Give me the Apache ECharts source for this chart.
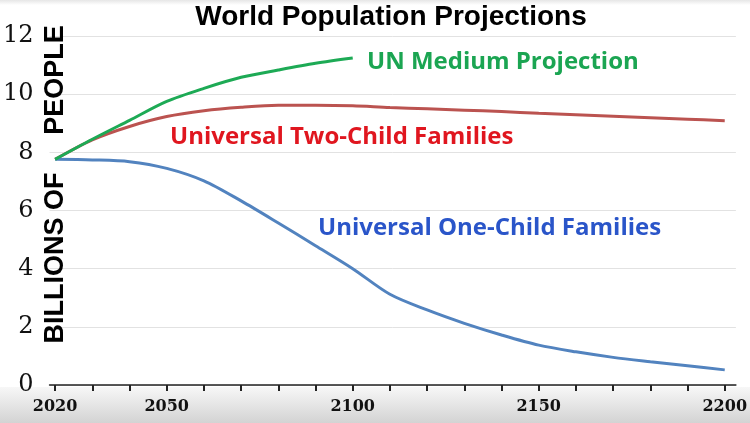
<!DOCTYPE html>
<html>
<head>
<meta charset="utf-8">
<script src="https://cdn.jsdelivr.net/npm/echarts@6/dist/echarts.min.js"></script>
<style>html,body{margin:0;padding:0;background:#fff}#c{width:750px;height:423px}</style>
</head>
<body>
<div id="c"></div>
<script>
var years = [2020,2030,2040,2050,2060,2070,2080,2090,2100,2110,2120,2130,2140,2150,2160,2170,2180,2190,2200];
var unMedium = [7.76,8.45,9.1,9.75,10.2,10.58,10.83,11.06,11.24];
var twoChild = [7.76,8.43,8.89,9.23,9.43,9.55,9.62,9.62,9.6,9.54,9.5,9.45,9.4,9.34,9.29,9.24,9.19,9.14,9.09];
var oneChild = [7.76,7.74,7.68,7.45,7.02,6.33,5.57,4.79,4.0,3.12,2.58,2.12,1.72,1.37,1.14,0.95,0.8,0.66,0.52];
var xLabelYears = [2020,2050,2100,2150,2200];
var yTicks = [0,2,4,6,8,10,12];

function pairs(vals){ return vals.map(function(v,i){ return [years[i], v]; }); }

var chart = echarts.init(document.getElementById('c'));
chart.setOption({
  backgroundColor: '#ffffff',
  animation: false,
  grid: {left: 49, right: 4, top: 36, bottom: 38, containLabel: false},
  xAxis: {
    type: 'value', min: 2018.5, max: 2203,
    axisLine: {show: true, lineStyle: {color: '#222', width: 1.5}},
    axisTick: {show: true, length: 6, lineStyle: {color: '#222', width: 2}, customValues: years},
    axisLabel: {customValues: xLabelYears, margin: 14, color: '#111', fontFamily: 'DejaVu Serif', fontSize: 16, fontWeight: 'bold',
      formatter: function(v){ return String(v); }},
    splitLine: {show: false}
  },
  yAxis: {
    type: 'value', min: 0, max: 12, interval: 2,
    axisLine: {show: false}, axisTick: {show: false},
    axisLabel: {customValues: yTicks, margin: 16, color: '#111', fontFamily: 'DejaVu Serif', fontSize: 24},
    splitLine: {show: true, lineStyle: {color: '#e2e2e2', width: 1}}
  },
  graphic: [
    {type: 'rect', z: -10, silent: true, shape: {x: 0, y: 387, width: 750, height: 36},
     style: {fill: new echarts.graphic.LinearGradient(0,0,0,1,[{offset:0,color:'#f7f7f7'},{offset:1,color:'#d3d3d3'}])}},
    {type: 'rect', z: -10, silent: true, shape: {x: 0, y: 0, width: 750, height: 5},
     style: {fill: new echarts.graphic.LinearGradient(0,0,0,1,[{offset:0,color:'#e6e6e6'},{offset:1,color:'#ffffff'}])}},
    {type: 'text', x: 391, y: 17, z: 10, style: {text: 'World Population Projections', fill: '#000', font: 'bold 28px "Liberation Sans", Arial, sans-serif', align: 'center', verticalAlign: 'middle'}},
    {type: 'text', x: 56, y: 258, rotation: Math.PI/2, z: 10, style: {text: 'BILLIONS OF', fill: '#000', font: 'bold 27px "Liberation Sans", Arial, sans-serif', align: 'center', verticalAlign: 'middle'}},
    {type: 'text', x: 56, y: 80, rotation: Math.PI/2, z: 10, style: {text: 'PEOPLE', fill: '#000', font: 'bold 27px "Liberation Sans", Arial, sans-serif', align: 'center', verticalAlign: 'middle'}},
    {type: 'text', x: 367, y: 62, z: 10, style: {text: 'UN Medium Projection', fill: '#1ba552', font: 'bold 24px "Open Sans", sans-serif', align: 'left', verticalAlign: 'middle'}},
    {type: 'text', x: 170, y: 137, z: 10, style: {text: 'Universal Two-Child Families', fill: '#e0161f', font: 'bold 24px "Open Sans", sans-serif', align: 'left', verticalAlign: 'middle'}},
    {type: 'text', x: 318, y: 228, z: 10, style: {text: 'Universal One-Child Families', fill: '#2a55c9', font: 'bold 24px "Open Sans", sans-serif', align: 'left', verticalAlign: 'middle'}}
  ],
  series: [
    {name: 'UN Medium Projection', type: 'line', data: pairs(unMedium), smooth: 0.3, symbol: 'none', lineStyle: {color: '#1daa55', width: 3}, z: 3},
    {name: 'Universal Two-Child Families', type: 'line', data: pairs(twoChild), smooth: 0.3, symbol: 'none', lineStyle: {color: '#bb5350', width: 3}, z: 2},
    {name: 'Universal One-Child Families', type: 'line', data: pairs(oneChild), smooth: 0.3, symbol: 'none', lineStyle: {color: '#5283bf', width: 3}, z: 2}
  ]
});
</script>
</body>
</html>
